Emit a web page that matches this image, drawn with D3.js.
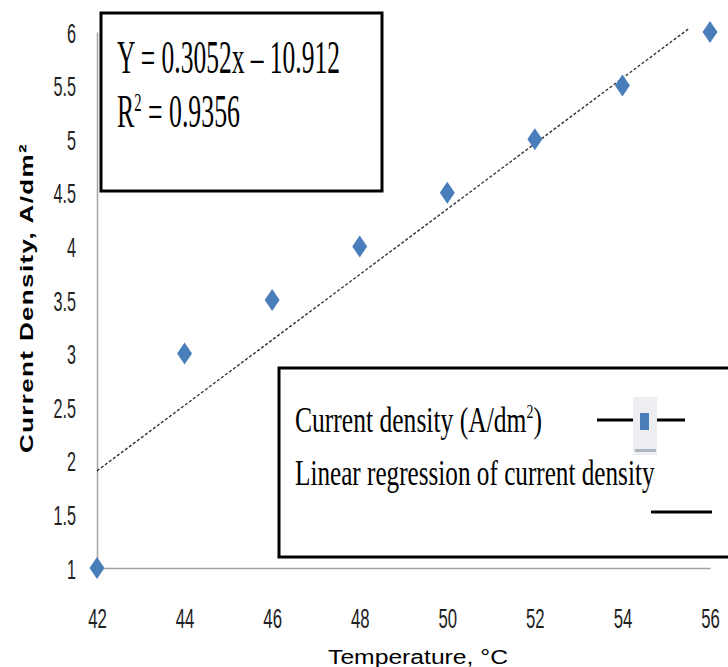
<!DOCTYPE html>
<html>
<head>
<meta charset="utf-8">
<script src="https://cdn.jsdelivr.net/npm/d3@7"></script>
<style>
  html, body { margin: 0; padding: 0; background: #fff; }
  svg { display: block; }
</style>
</head>
<body>
<svg id="chart" width="728" height="667"></svg>
<script>
// ---------- data ----------
const temperatures = [42, 44, 46, 48, 50, 52, 54, 56];
const currentDensity = [1, 3, 3.5, 4, 4.5, 5, 5.5, 6];
const xTickValues = [42, 44, 46, 48, 50, 52, 54, 56];
const yTickValues = [1, 1.5, 2, 2.5, 3, 3.5, 4, 4.5, 5, 5.5, 6];
const regressionSlope = 0.3052;
const regressionIntercept = -10.912;
const regressionRange = [42, 55.5];
const equationLine = "Y = 0.3052x \u2013 10.912";
const r2Value = "0.9356";
const legendLabels = ["Current density (A/dm", "Linear regression of current density"];
const xTitle = "Temperature, \u00B0C";
const yTitle = "Current Density, A/dm\u00B2";

// ---------- setup ----------
const svg = d3.select("#chart");
const x = d3.scaleLinear().domain([42, 56]).range([97, 710]);
const y = d3.scaleLinear().domain([1, 6]).range([568, 32]);
const blue = "#4a7ebb";
const axisGray = "#a3a3a3";

function fit(textSel, tx, ty, target, rot) {
  const w = textSel.node().getBBox().width;
  const s = target / w;
  textSel.attr("transform", `translate(${tx},${ty})` + (rot ? ` rotate(${rot})` : "") + ` scale(${s},1)`);
}

// ---------- axes ----------
const yAxis = svg.append("g")
  .attr("transform", `translate(${x(42)},0)`)
  .call(d3.axisLeft(y).tickValues(yTickValues).tickSize(0).tickSizeOuter(0).tickFormat(d3.format("")));
yAxis.select(".domain").attr("stroke", axisGray).attr("stroke-width", 1.5);
yAxis.selectAll(".tick text")
  .attr("x", null).attr("dy", null)
  .attr("fill", "#222")
  .style("font-family", "'Liberation Sans', Arial, sans-serif")
  .style("font-size", "27px")
  .attr("text-anchor", "end")
  .attr("transform", "translate(-21,10) scale(0.6,1)");

const xAxis = svg.append("g")
  .attr("transform", `translate(0,${y(1)})`)
  .call(d3.axisBottom(x).tickValues(xTickValues).tickSize(0).tickSizeOuter(0).tickFormat(d3.format("")));
xAxis.select(".domain").attr("stroke", axisGray).attr("stroke-width", 1.5);
xAxis.selectAll(".tick text")
  .attr("y", null).attr("dy", null)
  .attr("fill", "#222")
  .style("font-family", "'Liberation Sans', Arial, sans-serif")
  .style("font-size", "27px")
  .attr("text-anchor", "middle")
  .attr("transform", "translate(0,60) scale(0.62,1)");

// ---------- regression line ----------
svg.append("path")
  .datum(regressionRange)
  .attr("d", d3.line()
    .x(d => x(d))
    .y(d => y(regressionSlope * d + regressionIntercept)))
  .attr("fill", "none")
  .attr("stroke", "#333")
  .attr("stroke-width", 1.4)
  .attr("stroke-dasharray", "3,2");

// ---------- points ----------
const tallDiamond = {
  draw(ctx, size) {
    const h = Math.sqrt(size) * 0.74, w = h * 0.68;
    ctx.moveTo(0, -h); ctx.lineTo(w, 0); ctx.lineTo(0, h); ctx.lineTo(-w, 0); ctx.closePath();
  }
};
svg.append("g").selectAll("path")
  .data(temperatures.map((t, i) => [t, currentDensity[i]]))
  .join("path")
  .attr("transform", d => `translate(${x(d[0])},${y(d[1])})`)
  .attr("d", d3.symbol(tallDiamond, 221))
  .attr("fill", blue);

// ---------- equation box ----------
svg.append("rect")
  .attr("x", 101).attr("y", 13).attr("width", 281).attr("height", 178)
  .attr("fill", "#fff").attr("stroke", "#000").attr("stroke-width", 3);

const serif = "'Liberation Serif', 'Times New Roman', serif";
const eq1 = svg.append("text")
  .style("font-family", serif).style("font-size", "46px").attr("fill", "#000")
  .text(equationLine);
fit(eq1, 117, 73, 223);

const eq2 = svg.append("text")
  .style("font-family", serif).style("font-size", "46px").attr("fill", "#000");
eq2.append("tspan").text("R");
eq2.append("tspan").attr("dy", -16).style("font-size", "26px").text("2");
eq2.append("tspan").attr("dy", 16).text(" = " + r2Value);
fit(eq2, 117, 127, 123);

// ---------- legend box ----------
svg.append("rect")
  .attr("x", 279).attr("y", 368).attr("width", 470).attr("height", 189)
  .attr("fill", "#fff").attr("stroke", "#000").attr("stroke-width", 3);

const lg1 = svg.append("text")
  .style("font-family", serif).style("font-size", "35px").attr("fill", "#000");
lg1.append("tspan").text(legendLabels[0]);
lg1.append("tspan").attr("dy", -14).style("font-size", "19px").text("2");
lg1.append("tspan").attr("dy", 14).text(")");
fit(lg1, 295, 432, 247);

const lg2 = svg.append("text")
  .style("font-family", serif).style("font-size", "35px").attr("fill", "#000")
  .text(legendLabels[1]);
fit(lg2, 295, 485, 360);

// legend markers
svg.append("line").attr("x1", 597).attr("x2", 685).attr("y1", 420).attr("y2", 420)
  .attr("stroke", "#000").attr("stroke-width", 3);
svg.append("rect").attr("x", 633).attr("y", 397).attr("width", 24).attr("height", 58)
  .attr("fill", "#eceef1");
svg.append("rect").attr("x", 635).attr("y", 449).attr("width", 21).attr("height", 3)
  .attr("fill", "#aeb6c2");
svg.append("rect").attr("x", 640).attr("y", 413).attr("width", 9).attr("height", 17)
  .attr("fill", blue);
svg.append("line").attr("x1", 651).attr("x2", 712).attr("y1", 512).attr("y2", 512)
  .attr("stroke", "#000").attr("stroke-width", 3);

// ---------- axis titles ----------
const xt = svg.append("text")
  .style("font-family", "'Liberation Sans', Arial, sans-serif").style("font-size", "20px")
  .attr("text-anchor", "middle").attr("fill", "#000")
  .text(xTitle);
fit(xt, 418, 664, 180);

const yt = svg.append("text")
  .style("font-family", "'Liberation Sans', Arial, sans-serif").style("font-size", "19px")
  .style("font-weight", "bold").style("letter-spacing", "1px")
  .attr("text-anchor", "middle").attr("fill", "#000")
  .text(yTitle);
fit(yt, 33, 298, 310, -90);
</script>
</body>
</html>
